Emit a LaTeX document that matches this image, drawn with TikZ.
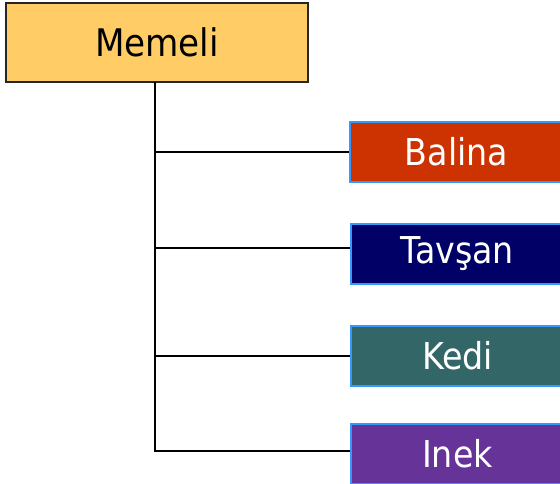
\documentclass[tikz,border=0pt]{standalone}
\usepackage{fontspec}
\setmainfont{DejaVu Sans Condensed}
\definecolor{gold}{HTML}{FFCC66}
\definecolor{balinac}{HTML}{CC3300}
\definecolor{tavsanc}{HTML}{000066}
\definecolor{kedic}{HTML}{336666}
\definecolor{inekc}{HTML}{663399}
\definecolor{edgeblue}{HTML}{3399FF}
\begin{document}
\begin{tikzpicture}[x=1pt,y=-1pt,
  parentbox/.style={draw=black!85, line width=1.6pt, fill=gold, minimum width=302pt, minimum height=79pt, inner sep=0pt, font=\fontsize{38}{42}\selectfont},
  childbox/.style={draw=edgeblue, line width=1.3pt, minimum width=213pt, minimum height=60pt, inner sep=0pt, text=white, font=\fontsize{37}{40}\selectfont},
  conn/.style={draw=black, line width=1.4pt}]
\useasboundingbox (0,0) rectangle (560,484);
\node[parentbox] (memeli) at (157,42.5) {Memeli};
\node[childbox, fill=balinac] (balina) at (456.5,152) {Balina};
\node[childbox, fill=tavsanc] (tavsan) at (457.5,254) {Tavşan};
\node[childbox, fill=kedic] (kedi) at (457.5,356) {Kedi};
\node[childbox, fill=inekc] (inek) at (457.5,454) {Inek};
\coordinate (trunk) at (155,82);
\draw[conn] (trunk) |- ([yshift=3pt]inek.west);
\draw[conn] (trunk |- balina.west) -- (balina.west);
\draw[conn] ([yshift=6pt]tavsan.west -| trunk) -- ([yshift=6pt]tavsan.west);
\draw[conn] (trunk |- kedi.west) -- (kedi.west);
\end{tikzpicture}
\end{document}
